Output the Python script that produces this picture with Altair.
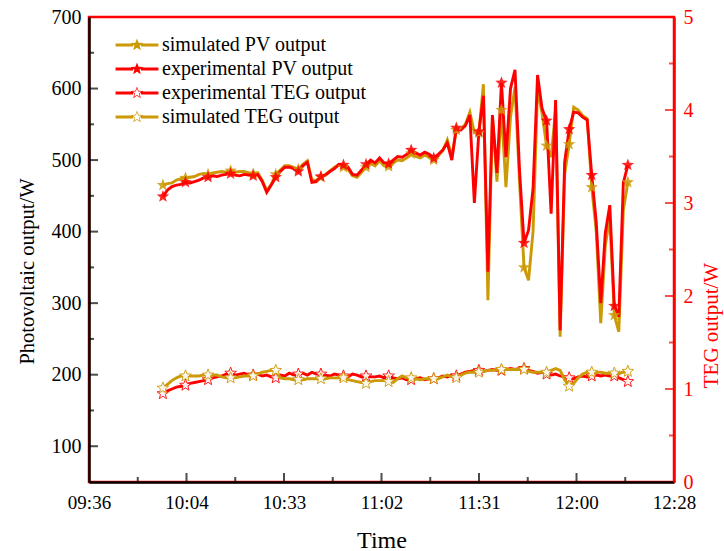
import math
import pandas as pd
import altair as alt

SERIES = ["simulated PV output", "experimental PV output",
          "experimental TEG output", "simulated TEG output"]
GOLD = "#CC9A06"
RED = "#FF0000"
COLORS = [GOLD, RED, RED, GOLD]

# sampling: every 80 s from 09:57:50
TIMES = pd.date_range("2021-01-01 09:57:50", periods=104, freq="80s")

PV_SIM = [465, 467, 468, 472, 474, 475, 476, 477, 480, 481,
          480, 482, 483, 484, 483, 485, 483, 484, 484, 482,
          481, 482, 472, 457, 466, 480, 486, 492, 492, 490,
          487, 494, 499, 472, 472, 476, 480, 485, 490, 493,
          490, 487, 478, 476, 483, 490, 496, 492, 499, 492,
          491, 496, 500, 499, 503, 509, 505, 503, 507, 504,
          500, 506, 513, 528, 505, 542, 543, 550, 567, 538,
          538, 606, 304, 560, 470, 570, 462, 560, 602, 470,
          350, 332, 400, 600, 565, 520, 504, 570, 253, 480,
          522, 574, 570, 562, 558, 462, 400, 272, 380, 420,
          283, 260, 430, 469]
PV_EXP = [449, 458, 463, 465, 466, 469, 468, 470, 472, 475,
          476, 478, 477, 479, 480, 481, 479, 478, 480, 479,
          478, 480, 470, 455, 465, 476, 484, 490, 490, 488,
          484, 492, 497, 469, 470, 477, 479, 484, 488, 494,
          493, 490, 480, 479, 486, 494, 500, 496, 503, 496,
          495, 500, 505, 504, 508, 514, 510, 507, 511, 508,
          503, 508, 514, 524, 500, 545, 542, 548, 563, 440,
          540, 590, 344, 563, 482, 608, 504, 600, 626, 486,
          384, 402, 460, 619, 572, 555, 425, 584, 262, 497,
          543, 567, 566, 560, 556, 479, 413, 300, 398, 437,
          296, 281, 468, 493]
TEG_EXP = [0.95, 0.98, 1.00, 1.02, 1.03, 1.04, 1.06, 1.07, 1.08, 1.09,
           1.10, 1.12, 1.13, 1.14, 1.16, 1.17, 1.15, 1.16, 1.17, 1.15,
           1.15, 1.16, 1.14, 1.15, 1.13, 1.12, 1.15, 1.14, 1.17, 1.15,
           1.16, 1.17, 1.15, 1.18, 1.16, 1.16, 1.15, 1.14, 1.16, 1.15,
           1.14, 1.13, 1.16, 1.15, 1.13, 1.14, 1.13, 1.13, 1.14, 1.12,
           1.14, 1.12, 1.11, 1.12, 1.10, 1.10, 1.11, 1.12, 1.10, 1.11,
           1.11, 1.12, 1.14, 1.13, 1.15, 1.14, 1.16, 1.18, 1.19, 1.20,
           1.20, 1.19, 1.20, 1.21, 1.20, 1.20, 1.21, 1.22, 1.21, 1.22,
           1.22, 1.20, 1.19, 1.17, 1.18, 1.16, 1.15, 1.16, 1.14, 1.13,
           1.12, 1.11, 1.13, 1.14, 1.13, 1.14, 1.15, 1.14, 1.15, 1.14,
           1.14, 1.12, 1.10, 1.08]
TEG_SIM = [1.01, 1.05, 1.09, 1.12, 1.14, 1.14, 1.14, 1.14, 1.14, 1.15,
           1.15, 1.15, 1.15, 1.13, 1.12, 1.12, 1.12, 1.13, 1.14, 1.14,
           1.14, 1.16, 1.18, 1.19, 1.20, 1.20, 1.12, 1.11, 1.11, 1.10,
           1.10, 1.10, 1.11, 1.11, 1.11, 1.11, 1.11, 1.12, 1.12, 1.12,
           1.12, 1.10, 1.09, 1.08, 1.07, 1.06, 1.08, 1.09, 1.09, 1.09,
           1.08, 1.07, 1.11, 1.14, 1.12, 1.12, 1.11, 1.10, 1.11, 1.11,
           1.11, 1.11, 1.13, 1.15, 1.13, 1.12, 1.15, 1.17, 1.18, 1.18,
           1.18, 1.19, 1.20, 1.20, 1.21, 1.21, 1.21, 1.21, 1.21, 1.21,
           1.21, 1.19, 1.18, 1.18, 1.18, 1.18, 1.20, 1.22, 1.20, 1.10,
           1.03, 1.06, 1.12, 1.16, 1.18, 1.18, 1.18, 1.18, 1.17, 1.17,
           1.17, 1.17, 1.18, 1.19]

LEFT_MAJOR = [100, 200, 300, 400, 500, 600]
LEFT_MINOR = [150, 250, 350, 450, 550, 650]
RIGHT_MAJOR = [1, 2, 3, 4]
RIGHT_MINOR = [0.5, 1.5, 2.5, 3.5, 4.5]
X_MAJOR = ["2021-01-01T10:04:48", "2021-01-01T10:33:36", "2021-01-01T11:02:24",
           "2021-01-01T11:31:12", "2021-01-01T12:00:00"]
X_MINOR = ["2021-01-01T09:50:24", "2021-01-01T10:19:12", "2021-01-01T10:48:00",
           "2021-01-01T11:16:48", "2021-01-01T11:45:36", "2021-01-01T12:14:24"]

FONT = "Liberation Serif"
W, H = 585, 465


def dt(h, m, s=0):
    return alt.DateTime(year=2021, month=1, date=1, hours=h, minutes=m, seconds=s)


def star_pts(scale=1.0, r_in=0.42):
    pts = []
    for k in range(10):
        a = -math.pi / 2 + k * math.pi / 5
        r = scale if k % 2 == 0 else scale * r_in
        pts.append((r * math.cos(a), r * math.sin(a)))
    return pts


def path(pts):
    return "M" + "L".join(f"{x:.3f},{y:.3f}" for x, y in pts) + "Z"


STAR = path(star_pts())
BARS = ("M-3.3,-0.22L-0.6,-0.22L-0.6,0.22L-3.3,0.22Z"
        "M0.6,-0.22L3.3,-0.22L3.3,0.22L0.6,0.22Z")
LEG_FILLED = BARS + STAR
LEG_HOLLOW = BARS + STAR + path(star_pts(0.72)[::-1])
SHAPES = [LEG_FILLED, LEG_FILLED, LEG_HOLLOW, LEG_HOLLOW]

n = len(TIMES)
flags = [(i % 5 == 0) or (i == n - 1) for i in range(n)]


def frame(vals):
    return pd.DataFrame({"time": TIMES, "value": vals, "marker": flags})


X_DOMAIN = [dt(9, 36), dt(12, 28, 48)]
LEFT_DOMAIN = [50, 700]
RIGHT_DOMAIN = [0, 5]

x_axis = alt.Axis(
    values=[dt(9, 36), dt(10, 4, 48), dt(10, 33, 36), dt(11, 2, 24),
            dt(11, 31, 12), dt(12, 0), dt(12, 28, 48)],
    format="%H:%M", formatType="time", ticks=False, grid=False,
    labelFlush=False, labelOverlap=False, labelFont=FONT, labelFontSize=19,
    labelColor="black", labelPadding=11, domainColor="black", domainWidth=2.5,
    title="Time", titleFont=FONT, titleFontSize=24, titleFontWeight="normal",
    titleColor="black", titleY=58, titleBaseline="middle")
left_axis = alt.Axis(
    orient="left", values=[100, 200, 300, 400, 500, 600, 700], ticks=False,
    grid=False, labelFont=FONT, labelFontSize=20, labelColor="black",
    labelPadding=8, domainColor="black", domainWidth=2.5,
    title="Photovoltaic output/W", titleFont=FONT, titleFontSize=20.5,
    titleFontWeight="normal", titleColor="black", titleAngle=270,
    titleX=-62, titleY=254, titleBaseline="middle", titleAlign="center")
right_axis = alt.Axis(
    orient="right", values=[0, 1, 2, 3, 4, 5], ticks=False, grid=False,
    labelFont=FONT, labelFontSize=20, labelColor=RED, labelPadding=9,
    domainColor=RED, domainWidth=2.5,
    title="TEG output/W", titleFont=FONT, titleFontSize=21,
    titleFontWeight="normal", titleColor=RED, titleAngle=270,
    titleX=37, titleY=308, titleBaseline="middle", titleAlign="center")


def X(field="time:T"):
    return alt.X(field, scale=alt.Scale(domain=X_DOMAIN), axis=x_axis)


def Y(dom, field="value:Q", axis=None):
    return alt.Y(field, scale=alt.Scale(domain=dom), axis=axis)


def line(vals, color, dom, axis=None):
    return alt.Chart(frame(vals)).mark_line(
        color=color, strokeWidth=2.9, clip=True).encode(
        x=X(), y=Y(dom, axis=axis))


def stars(vals, color, dom, hollow=False):
    if hollow:
        mk = alt.Chart(frame(vals)).mark_point(
            shape=STAR, size=150, fill="white", fillOpacity=1, stroke=color,
            strokeWidth=1, opacity=0.9, clip=True)
    else:
        mk = alt.Chart(frame(vals)).mark_point(
            shape=STAR, size=170, filled=True, color=color, opacity=0.85,
            clip=True)
    return mk.transform_filter("datum.marker").encode(x=X(), y=Y(dom))


def yticks(vals, dom, color, length, xpos):
    return alt.Chart(pd.DataFrame({"v": vals})).mark_tick(
        color=color, size=length, thickness=2).encode(
        y=Y(dom, field="v:Q"), x=alt.value(xpos))


def xticks(vals, length):
    return alt.Chart(pd.DataFrame({"time": vals})).mark_tick(
        color="black", size=length, thickness=2).encode(
        x=X(), y=alt.value(H - length / 2))


legend_layer = alt.Chart(pd.DataFrame({"series": SERIES})).mark_point(
    filled=True, size=169, strokeWidth=0, opacity=1, clip=True).encode(
    x=alt.value(-200), y=alt.value(-200),
    fill=alt.Fill("series:N", scale=alt.Scale(domain=SERIES, range=COLORS),
                  legend=alt.Legend(title=None, orient="none", legendX=38,
                                    legendY=18)),
    shape=alt.Shape("series:N", scale=alt.Scale(domain=SERIES, range=SHAPES),
                    legend=alt.Legend(title=None, orient="none", legendX=38,
                                      legendY=18)))

chart = alt.layer(
    line(PV_SIM, GOLD, LEFT_DOMAIN, axis=left_axis),
    line(TEG_EXP, RED, RIGHT_DOMAIN, axis=right_axis),
    line(PV_EXP, RED, LEFT_DOMAIN),
    stars(PV_SIM, GOLD, LEFT_DOMAIN),
    stars(PV_EXP, RED, LEFT_DOMAIN),
    stars(TEG_EXP, RED, RIGHT_DOMAIN, hollow=True),
    line(TEG_SIM, GOLD, RIGHT_DOMAIN),
    stars(TEG_SIM, GOLD, RIGHT_DOMAIN, hollow=True),
    yticks(LEFT_MAJOR, LEFT_DOMAIN, "black", 9, 4.5),
    yticks(LEFT_MINOR, LEFT_DOMAIN, "black", 5, 2.5),
    yticks(RIGHT_MAJOR, RIGHT_DOMAIN, RED, 9, W - 4.5),
    yticks(RIGHT_MINOR, RIGHT_DOMAIN, RED, 5, W - 2.5),
    xticks(X_MAJOR, 9),
    xticks(X_MINOR, 5),
    legend_layer,
).resolve_scale(
    y="independent"
).properties(
    width=W, height=H, autosize="none", background="white",
    padding={"left": 89, "top": 17, "right": 50, "bottom": 69},
).configure_view(
    stroke=RED, strokeWidth=2.5
).configure_legend(
    labelFont=FONT, labelFontSize=20, labelColor="black", labelOffset=15,
    symbolSize=169, symbolStrokeWidth=0, rowPadding=4, padding=0,
    labelLimit=400
)

chart.save("out.html", embed_options={"renderer": "svg", "actions": False})
